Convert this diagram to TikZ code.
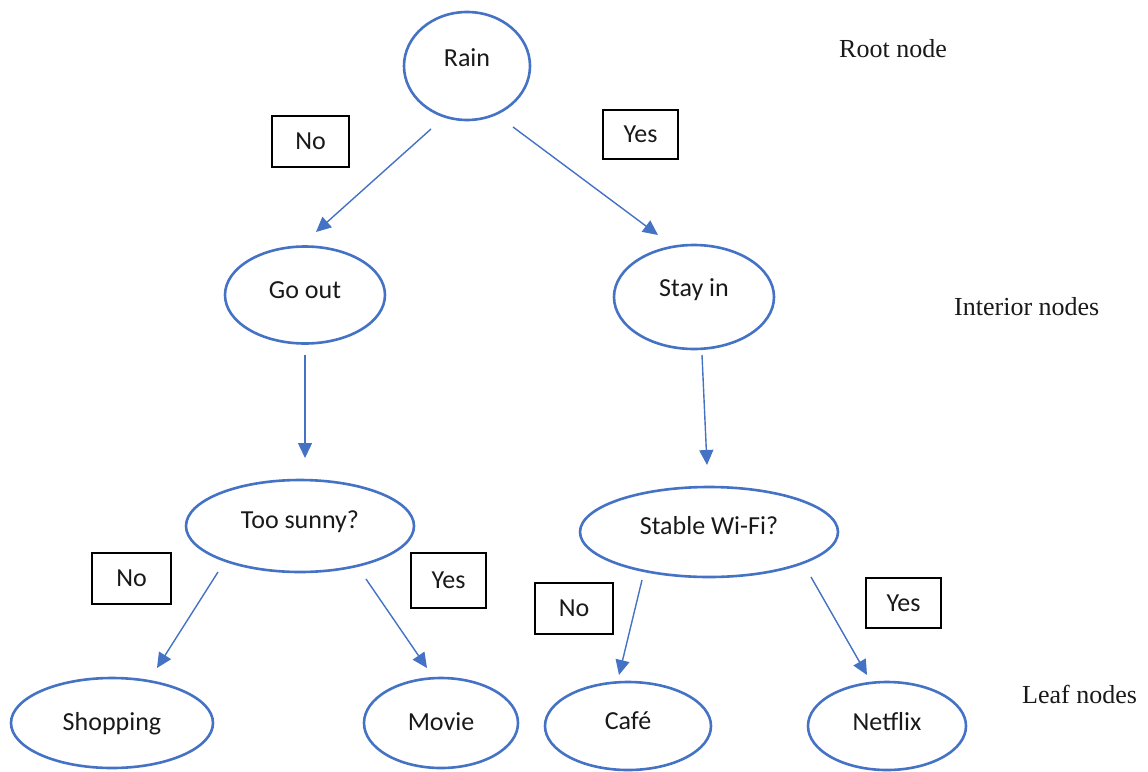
\documentclass[tikz,border=0pt]{standalone}
\usepackage{fontspec}
\setmainfont{Liberation Serif}
\newfontfamily\calib{Carlito}
\usetikzlibrary{shapes.geometric,arrows.meta,calc}
\definecolor{ob}{HTML}{4472C4}
\begin{document}
\begin{tikzpicture}[x=1pt,y=-1pt,
  ell/.style={ellipse,draw=ob,line width=2.6pt,inner sep=0pt,text=black!90,
    font=\calib\fontsize{26}{30}\selectfont},
  tx/.style={text height=18pt,text depth=#1},
  lab/.style={draw=black,line width=1.3pt,inner sep=0pt,text=black!90,
    font=\calib\fontsize{26}{30}\selectfont},
  arr/.style={draw=ob,line width=1.4pt,-{Triangle[length=15pt,width=14pt]}},
  side/.style={font=\fontsize{26}{30}\selectfont,inner sep=0pt,anchor=base west,text=black!90}]
\useasboundingbox (0,0) rectangle (1148,771);
% ellipses
\node[ell,tx=17pt,minimum width=126pt,minimum height=108pt] (rain) at (467,66) {Rain};
\node[ell,tx=11pt,minimum width=160pt,minimum height=97pt] (goout) at (305,295) {Go out};
\node[ell,tx=19pt,minimum width=160pt,minimum height=104pt] (stayin) at (694,297) {Stay in};
\node[ell,tx=13pt,minimum width=228pt,minimum height=92pt] (toosunny) at (300,526) {Too sunny?};
\node[ell,tx=13pt,minimum width=258pt,minimum height=90pt] (stable) at (709,532) {Stable Wi-Fi?};
\node[ell,tx=4pt,minimum width=202pt,minimum height=90pt] (shopping) at (112,723) {Shopping};
\node[ell,tx=4pt,minimum width=154pt,minimum height=90pt] (movie) at (441,723) {Movie};
\node[ell,tx=11pt,minimum width=166pt,minimum height=88pt] (cafe) at (628,726) {Café};
\node[ell,tx=9pt,minimum width=158pt,minimum height=88pt] (netflix) at (887,726) {Netflix};
% label boxes
\node[lab,minimum width=77pt,minimum height=51pt] (no1) at (310.5,141.5) {No};
\node[lab,minimum width=75pt,minimum height=49pt] (yes1) at (640.5,134.5) {Yes};
\node[lab,minimum width=79pt,minimum height=51pt] (no2) at (131.5,578.5) {No};
\node[lab,minimum width=75pt,minimum height=55pt] (yes2) at (448.5,580.5) {Yes};
\node[lab,minimum width=78pt,minimum height=51pt] (no3) at (574,608.5) {No};
\node[lab,minimum width=75pt,minimum height=50pt] (yes3) at (903.5,603) {Yes};
% side labels
\node[side] (rootlab) at (839,57) {Root node};
\node[side] (intlab) at (954,315) {Interior nodes};
\node[side] (leaflab) at (1022,703) {Leaf nodes};
% connectors
\draw[arr] ($(rain)+(-36,63)$) -- ($(goout)+(11,-63)$);
\draw[arr] ($(rain)+(46,61)$) -- ($(stayin)+(-36,-62)$);
\draw[arr] ($(goout)+(0,60)$) -- ($(toosunny)+(5,-68)$);
\draw[arr] ($(stayin)+(8,58)$) -- ($(stable)+(-2,-67)$);
\draw[arr] ($(toosunny)+(-82,46)$) -- ($(shopping)+(45,-55)$);
\draw[arr] ($(toosunny)+(66,53)$) -- ($(movie)+(-14,-55)$);
\draw[arr] ($(stable)+(-67,48)$) -- ($(cafe)+(-9,-51)$);
\draw[arr] ($(stable)+(102,45)$) -- ($(netflix)+(-20,-51)$);
\end{tikzpicture}
\end{document}
